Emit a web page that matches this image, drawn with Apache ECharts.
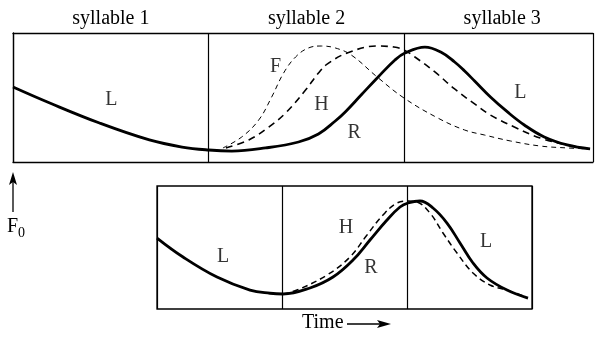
<!DOCTYPE html>
<html>
<head>
<meta charset="utf-8">
<script src="https://cdn.jsdelivr.net/npm/echarts@6/dist/echarts.min.js"></script>
<style>
  html,body{margin:0;padding:0;background:#fff;}
  #chart{width:596px;height:346px;}
</style>
</head>
<body>
<div id="chart"></div>
<script>
// x = time in syllables, y = relative F0 (0 = bottom of box, 100 = top)
const syllables = ['syllable 1', 'syllable 2', 'syllable 3']

// upper panel: L + R + L (solid), F and H alternatives (dashed)
const topSolid = [[0,58.1],[0.188,45.7],[0.442,30.2],[0.697,17.1],[0.864,11.6],[1.0,9.3],[1.118,8.5],[1.291,10.9],[1.459,15.5],[1.561,21.7],[1.647,31.8],[1.698,38.8],[1.779,51.9],[1.866,65.9],[1.952,79.1],[2.003,84.5],[2.105,89.1],[2.186,85.3],[2.257,77.5],[2.308,70.5],[2.359,62.8],[2.440,50.4],[2.527,38.8],[2.613,28.7],[2.715,19.4],[2.832,13.2],[2.949,10.1]]
const topF = [[1.073,10.9],[1.169,19.4],[1.256,32.6],[1.322,50.4],[1.383,69.0],[1.444,81.4],[1.510,88.4],[1.576,89.9],[1.647,88.4],[1.729,82.9],[1.861,65.9],[1.998,49.6],[2.171,34.1],[2.308,24.8],[2.410,20.9],[2.542,16.3],[2.694,12.4],[2.832,10.9],[2.949,10.1]]
const topH = [[1.088,10.9],[1.205,17.1],[1.307,27.1],[1.393,38.0],[1.495,55.8],[1.561,69.0],[1.607,76.0],[1.708,84.5],[1.861,89.9],[1.947,89.1],[1.998,86.8],[2.054,81.4],[2.156,69.8],[2.257,56.6],[2.359,45.0],[2.440,36.4],[2.562,27.1],[2.694,18.6],[2.832,13.2],[2.949,10.1]]
const topLabelNames = ['L','F','H','R','L']
const topLabelPos = [[0.503,48.1],[1.342,73.6],[1.576,44.2],[1.744,22.5],[2.593,53.5]]

// lower panel: R (solid) vs H (dashed)
const botSolid = [[0,57.7],[0.208,42.3],[0.48,26.0],[0.744,15.4],[0.904,12.8],[1.008,12.2],[1.224,17.1],[1.408,26.0],[1.568,39.8],[1.704,56.1],[1.84,72.4],[1.944,82.9],[2.008,86.2],[2.104,87.8],[2.208,82.1],[2.32,69.9],[2.424,53.7],[2.528,37.4],[2.64,25.2],[2.8,15.4],[2.968,8.9]]
const botH = [[1.008,12.2],[1.12,15.4],[1.36,27.6],[1.544,42.3],[1.68,60.2],[1.808,76.4],[1.92,86.2],[2.008,87.8],[2.08,87.0],[2.184,78.0],[2.288,61.8],[2.4,45.5],[2.528,29.3],[2.664,19.5],[2.8,15.4],[2.952,9.8]]
const botLabelNames = ['L','H','R','L']
const botLabelPos = [[0.528,42.3],[1.512,65.9],[1.712,33.3],[2.632,54.5]]

const font = "'Liberation Serif', 'DejaVu Serif', serif"
const fs = 20
const topMax = 2.964   // upper box runs past the right edge of the picture

let myChart = echarts.init(document.getElementById('chart'))

function xAxis(grid, max, line){
  return {
    type:'value', gridIndex:grid, min:0, max:max, interval:1,
    axisLine:{show:line, lineStyle:{color:'#000', width:1.3}},
    axisTick:{show:false}, axisLabel:{show:false},
    splitLine:{show:true, lineStyle:{color:'#000', width:1.2}}
  }
}
function yAxis(grid, line){
  return {
    type:'value', gridIndex:grid, min:0, max:100,
    axisLine:{show:line, lineStyle:{color:'#000', width:1.3}},
    axisTick:{show:false}, axisLabel:{show:false},
    splitLine:{show:false}
  }
}
function curve(data, axis, width, dash){
  return {
    type:'line', xAxisIndex:axis, yAxisIndex:axis, data:data,
    smooth:0.4, showSymbol:false, silent:true,
    lineStyle:{color:'#000', width:width, type:dash || 'solid'}
  }
}
function labels(names, pos, axis){
  return {
    type:'scatter', xAxisIndex:axis, yAxisIndex:axis, symbolSize:0, silent:true,
    data: names.map((n,i) => ({name:n, value:pos[i]})),
    label:{show:true, position:'inside', formatter:'{b}', color:'#000', fontFamily:font, fontSize:fs}
  }
}

let option = {
  animation:false,
  backgroundColor:'#fff',
  grid:[
    {left:13, top:33, width:583, height:129},
    {left:157, top:186, width:375, height:123, show:true, borderColor:'#000', borderWidth:1.3}
  ],
  xAxis:[
    xAxis(0, topMax, true),
    xAxis(1, 3, false),
    {
      type:'value', gridIndex:0, position:'top', min:0, max:topMax, interval:0.5,
      axisLine:{show:true, lineStyle:{color:'#000', width:1.3}},
      axisTick:{show:false}, splitLine:{show:false},
      axisLabel:{
        color:'#000', fontFamily:font, fontSize:fs, margin:4,
        formatter: v => (Math.abs(v % 1 - 0.5) < 1e-6) ? syllables[Math.floor(v)] : ''
      }
    }
  ],
  yAxis:[yAxis(0, true), yAxis(1, false)],
  series:[
    curve(topF, 0, 1, [5,4]),
    curve(topH, 0, 1.6, [7,5]),
    curve(topSolid, 0, 2.8),
    labels(topLabelNames, topLabelPos, 0),
    curve(botH, 1, 1.5, [6,4]),
    curve(botSolid, 1, 2.8),
    labels(botLabelNames, botLabelPos, 1)
  ],
  graphic:[
    // F0 arrow
    {type:'line', shape:{x1:13, y1:212, x2:13, y2:180}, style:{stroke:'#000', lineWidth:1.3}},
    {type:'polygon', shape:{points:[[13,172],[17,185],[13,182],[9,185]]}, style:{fill:'#000'}},
    {type:'text', left:7, top:217, style:{
      text:'F{s|0}', fill:'#000', font:fs + 'px ' + font,
      rich:{s:{fontSize:14, fontFamily:font, padding:[12,0,0,0]}}
    }},
    // Time arrow
    {type:'text', left:302, top:313, style:{text:'Time', fill:'#000', font:fs + 'px ' + font}},
    {type:'line', shape:{x1:347, y1:324, x2:384, y2:324}, style:{stroke:'#000', lineWidth:1.3}},
    {type:'polygon', shape:{points:[[391,324],[377,320],[380,324],[377,328]]}, style:{fill:'#000'}}
  ]
}
myChart.setOption(option)
</script>
</body>
</html>
